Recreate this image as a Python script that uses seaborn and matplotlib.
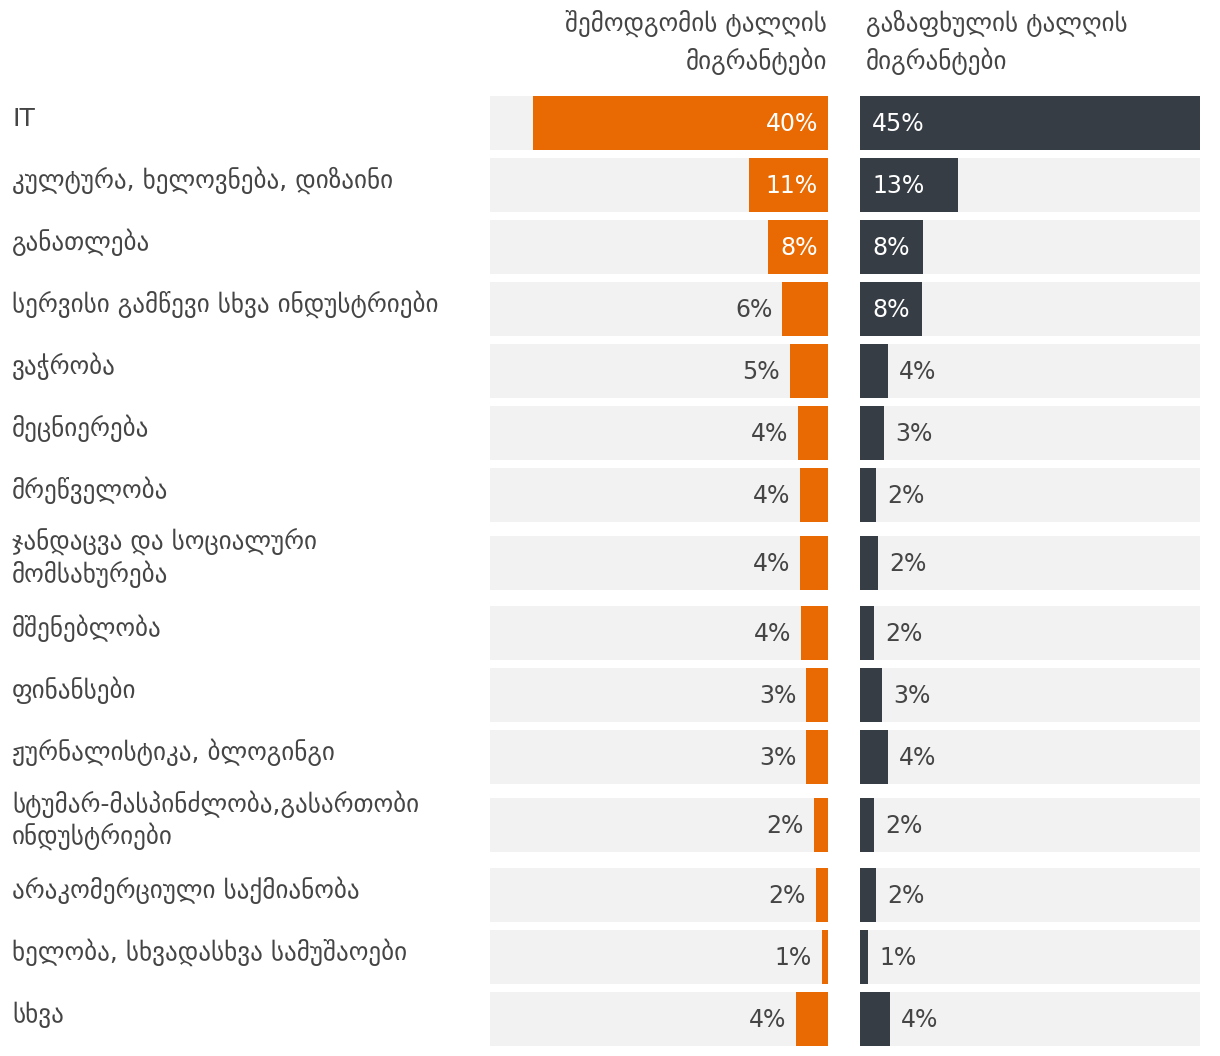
import matplotlib
matplotlib.use("Agg")
import matplotlib.pyplot as plt
import seaborn as sns
import numpy as np
import pandas as pd

# ---------------- data ----------------
categories = [
    "IT",
    "კულტურა, ხელოვნება, დიზაინი",
    "განათლება",
    "სერვისი გამწევი სხვა ინდუსტრიები",
    "ვაჭრობა",
    "მეცნიერება",
    "მრეწველობა",
    "ჯანდაცვა და სოციალური\nმომსახურება",
    "მშენებლობა",
    "ფინანსები",
    "ჟურნალისტიკა, ბლოგინგი",
    "სტუმარ-მასპინძლობა,გასართობი\nინდუსტრიები",
    "არაკომერციული საქმიანობა",
    "ხელობა, სხვადასხვა სამუშაოები",
    "სხვა",
]
autumn = [39.6, 10.6, 8.0, 6.1, 5.1, 4.0, 3.7, 3.7, 3.6, 2.9, 2.9, 1.9, 1.6, 0.8, 4.3]
spring = [45.3, 13.1, 8.4, 8.3, 3.7, 3.2, 2.1, 2.4, 1.9, 2.9, 3.7, 1.9, 2.1, 1.1, 4.0]
headers = ["შემოდგომის ტალღის\nმიგრანტები", "გაზაფხულის ტალღის\nმიგრანტები"]

# ---------------- style ----------------
ORANGE = "#E96A03"
DARK = "#363D45"
TRACK = "#F2F2F2"
TEXT = "#454545"
FS = 17      # percent labels
FS_LAB = 18  # category labels and headers

W, H = 1220, 1056
DPI = 100
sns.set_theme(style="white")
plt.rcParams["font.family"] = ["DejaVu Sans"]

fig = plt.figure(figsize=(W / DPI, H / DPI), dpi=DPI)
fig.patch.set_facecolor("white")

# row layout in pixel units (from top)
ROW, EXTRA, TOP, BAR_H = 62, 14, 96, 54
centers = []
start = TOP
for lab in categories:
    n = lab.count("\n") + 1
    off = 6 if n > 1 else 0
    centers.append(start + off + BAR_H / 2)
    start += ROW + (n - 1) * EXTRA

XMAX = 45.3
track = [XMAX] * len(categories)
df = pd.DataFrame({"cat": categories, "pos": centers, "autumn": autumn,
                   "spring": spring, "track": track})

axL = fig.add_axes([490 / W, 0, 338 / W, 1])
axR = fig.add_axes([860 / W, 0, 340 / W, 1])

for ax, col, color in [(axL, "autumn", ORANGE), (axR, "spring", DARK)]:
    sns.barplot(data=df, x="track", y="pos", orient="h", native_scale=True,
                width=BAR_H / ROW, color=TRACK, saturation=1, errorbar=None,
                linewidth=0, ax=ax)
    sns.barplot(data=df, x=col, y="pos", orient="h", native_scale=True,
                width=BAR_H / ROW, color=color, saturation=1, errorbar=None,
                linewidth=0, ax=ax)
    ax.set_ylim(H, 0)
    ax.set_axis_off()

axL.set_xlim(XMAX, 0)
axR.set_xlim(0, XMAX)

THR = 7
for v, c in zip(autumn, centers):
    lab = f"{v:.0f}%"
    if v >= THR:
        axL.annotate(lab, xy=(0, c), xytext=(-10, -8), textcoords="offset pixels",
                     ha="right", va="baseline", color="white", fontsize=FS)
    else:
        axL.annotate(lab, xy=(v, c), xytext=(-10, -8), textcoords="offset pixels",
                     ha="right", va="baseline", color=TEXT, fontsize=FS)
for v, c in zip(spring, centers):
    lab = f"{v:.0f}%"
    if v >= THR:
        axR.annotate(lab, xy=(0, c), xytext=(12, -8), textcoords="offset pixels",
                     ha="left", va="baseline", color="white", fontsize=FS)
    else:
        axR.annotate(lab, xy=(v, c), xytext=(11, -8), textcoords="offset pixels",
                     ha="left", va="baseline", color=TEXT, fontsize=FS)

# category labels
for lab, c in zip(categories, centers):
    lines = lab.split("\n")
    n = len(lines)
    for i, line in enumerate(lines):
        base = c + 3 + (i - (n - 1) / 2) * 32
        fig.text(12 / W, 1 - base / H, line, ha="left", va="baseline",
                 color=TEXT, fontsize=FS_LAB)

# headers
for j, (hdr, x, ha) in enumerate([(headers[0], 827, "right"), (headers[1], 866, "left")]):
    for i, line in enumerate(hdr.split("\n")):
        base = 31 + i * 38
        fig.text(x / W, 1 - base / H, line, ha=ha, va="baseline",
                 color=TEXT, fontsize=FS_LAB)

fig.savefig("out.png", dpi=DPI, facecolor="white")
